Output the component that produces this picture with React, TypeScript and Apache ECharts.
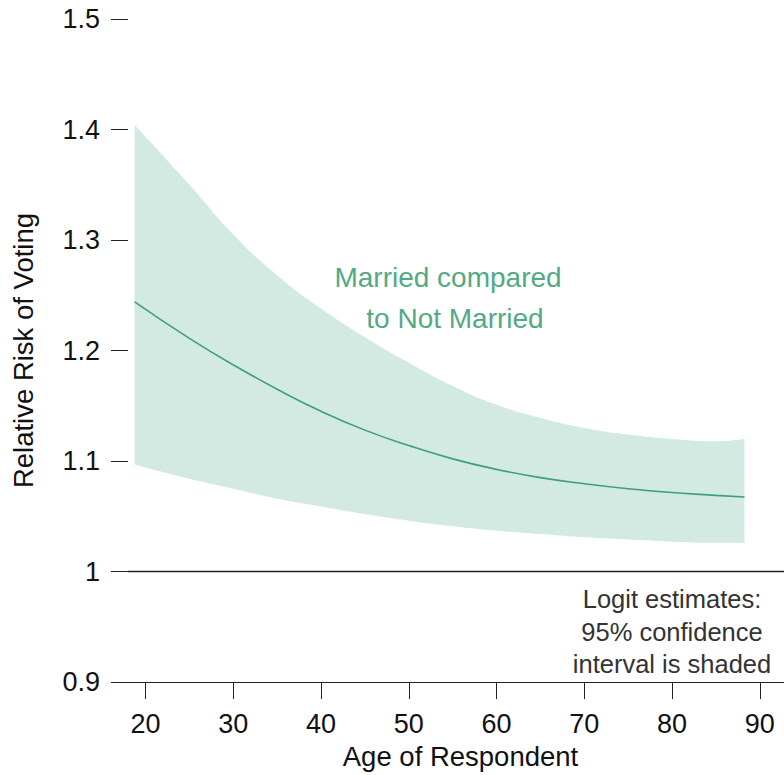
import React, { useEffect, useRef } from "react";
import * as echarts from "echarts";

const ages = [18.75, 25, 30, 35, 40, 45, 50, 55, 60, 65, 70, 75, 80, 85, 88.25];
const fitted = [1.244, 1.211, 1.187, 1.165, 1.145, 1.128, 1.114, 1.102, 1.0925, 1.085, 1.0795, 1.075, 1.0715, 1.069, 1.0675];
const lower = [1.097, 1.084, 1.075, 1.066, 1.059, 1.052, 1.046, 1.041, 1.037, 1.034, 1.031, 1.029, 1.027, 1.026, 1.026];
const upper = [1.404, 1.350, 1.305, 1.268, 1.238, 1.212, 1.189, 1.168, 1.151, 1.139, 1.130, 1.124, 1.120, 1.118, 1.120];
const xTicks = [20, 30, 40, 50, 60, 70, 80, 90];
const yTicks = [0.9, 1, 1.1, 1.2, 1.3, 1.4, 1.5];

const FONT = "Liberation Sans, Arial, Helvetica, sans-serif";
const BAND = "#d2eae1";
const GREEN_TEXT = "#52aa85";

export default function App() {
  const ref = useRef<HTMLDivElement>(null);
  useEffect(() => {
    if (!ref.current) return;
    const chart = echarts.init(ref.current, null, { renderer: "svg" });
    // value first, age second, so that stacking applies to the value dimension
    const lowerData = ages.map((a, i) => [lower[i], a]);
    const bandData = ages.map((a, i) => [upper[i] - lower[i], a]);
    const fitData = ages.map((a, i) => [fitted[i], a]);
    const txt = (text: string, x: number, y: number, size: number, fill: string) => ({
      type: "text",
      x,
      y,
      z: 100,
      style: {
        text,
        fontSize: size,
        fontFamily: FONT,
        fill,
        textAlign: "center",
        textVerticalAlign: "middle",
      },
    });
    chart.setOption({
      animation: false,
      grid: { left: 128, top: 19, width: 656, height: 667, containLabel: false },
      xAxis: {
        type: "value",
        min: 18,
        max: 92.75,
        z: 10,
        axisLine: { show: true, lineStyle: { color: "#222", width: 1 } },
        axisTick: { show: true, length: 17, customValues: xTicks, lineStyle: { color: "#222", width: 1 } },
        axisLabel: { customValues: xTicks, fontSize: 27, color: "#111", fontFamily: FONT, margin: 28 },
        splitLine: { show: false },
        name: "Age of Respondent",
        nameLocation: "middle",
        nameGap: 57,
        nameTextStyle: { fontSize: 27.5, color: "#111", fontFamily: FONT, padding: [0, 0, 0, 9] },
      },
      yAxis: {
        type: "value",
        min: 0.9,
        max: 1.5,
        interval: 0.1,
        z: 10,
        axisLine: { show: false },
        axisTick: { show: true, length: 17, lineStyle: { color: "#222", width: 1 } },
        axisLabel: {
          fontSize: 27,
          color: "#111",
          fontFamily: FONT,
          margin: 28,
          formatter: (v: number) => {
            const r = Math.round(v * 10) / 10;
            return yTicks.includes(r) ? String(r) : "";
          },
        },
        splitLine: { show: false },
        name: "Relative Risk of Voting",
        nameLocation: "middle",
        nameRotate: 90,
        nameGap: 91,
        nameTextStyle: { fontSize: 27.5, color: "#111", fontFamily: FONT },
      },
      series: [
        {
          type: "line",
          stack: "ci",
          data: lowerData,
          encode: { x: 1, y: 0 },
          symbol: "none",
          smooth: true,
          lineStyle: { width: 0, opacity: 0 },
          silent: true,
          z: 1,
        },
        {
          type: "line",
          stack: "ci",
          data: bandData,
          encode: { x: 1, y: 0 },
          symbol: "none",
          smooth: true,
          lineStyle: { width: 0, opacity: 0 },
          areaStyle: { color: BAND, opacity: 1 },
          silent: true,
          z: 2,
        },
        {
          type: "line",
          data: fitData,
          encode: { x: 1, y: 0 },
          symbol: "none",
          smooth: true,
          lineStyle: { color: "#3f9f79", width: 1.6 },
          silent: true,
          z: 3,
          markLine: {
            silent: true,
            symbol: "none",
            label: { show: false },
            lineStyle: { color: "#222", width: 1.3, type: "solid" },
            data: [{ yAxis: 1 }],
          },
        },
      ],
      graphic: [
        txt("Married compared", 448, 277, 28, GREEN_TEXT),
        txt("to Not Married", 455, 318, 28, GREEN_TEXT),
        txt("Logit estimates:", 672, 599, 25.5, "#333"),
        txt("95% confidence", 672, 631.5, 25.5, "#333"),
        txt("interval is shaded", 672, 664, 25.5, "#333"),
      ],
    });
    return () => chart.dispose();
  }, []);
  return (
    <div
      ref={ref}
      style={{ position: "fixed", left: 0, top: 0, width: 784, height: 775, background: "#fff" }}
    />
  );
}
